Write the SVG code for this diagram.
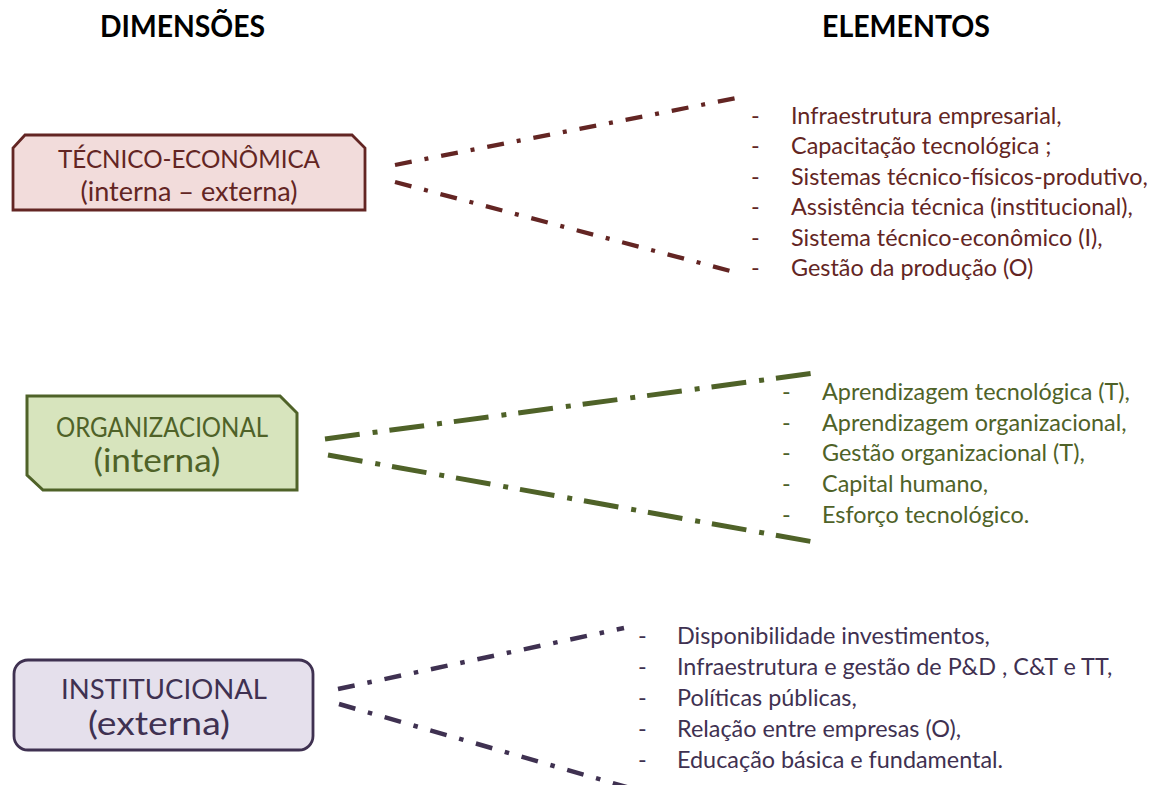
<svg xmlns="http://www.w3.org/2000/svg" width="1153" height="785" viewBox="0 0 1153 785">
<style>
text{font-family:Lato,"Liberation Sans","Noto Sans",sans-serif}
.title{font-weight:bold;font-size:29.5px;fill:#000}
.red{fill:#632523}
.green{fill:#4f6228}
.purple{fill:#3f3151}
.item{font-size:23.4px}
.box1{fill:#f2dcdb;stroke:#632523;stroke-width:2.8}
.box2{fill:#d7e4bd;stroke:#4f6228;stroke-width:3}
.box3{fill:#e5e0ec;stroke:#3f3151;stroke-width:2.8}
.c1{stroke:#632523;stroke-width:4.3;fill:none;stroke-dasharray:17 13 4 13}
.c2{stroke:#4f6228;stroke-width:5;fill:none;stroke-dasharray:35 13 5 12}
.c3{stroke:#3f3151;stroke-width:4.5;fill:none;stroke-dasharray:17 13 4.5 13}
</style>
<rect width="1153" height="785" fill="#ffffff"/>
<g id="titles">
<text class="title" x="100" y="37" textLength="165" lengthAdjust="spacingAndGlyphs">DIMENSÕES</text>
<text class="title" x="822" y="37" textLength="168" lengthAdjust="spacingAndGlyphs">ELEMENTOS</text>
</g>
<g id="connectors">
<line class="c1" x1="395" y1="165" x2="742" y2="97"/>
<line class="c1" x1="395" y1="182" x2="738" y2="273"/>
<line class="c2" x1="325" y1="439" x2="815" y2="373"/>
<line class="c2" x1="328" y1="455" x2="814" y2="542"/>
<line class="c3" x1="338" y1="689" x2="624" y2="628"/>
<line class="c3" x1="339" y1="704" x2="630" y2="788"/>
</g>
<g id="node-tecnico">
<path class="box1" d="M25,135 H352 L365,148 V210 H13 V148 Z"/>
<text class="red" x="189" y="168" font-size="25.5" text-anchor="middle" textLength="262" lengthAdjust="spacingAndGlyphs">TÉCNICO-ECONÔMICA</text>
<text class="red" x="189" y="201" font-size="26.5" text-anchor="middle" textLength="217" lengthAdjust="spacingAndGlyphs">(interna – externa)</text>
</g>
<g id="node-organizacional">
<path class="box2" d="M27,396 H280 L297,413 V490 H43 L27,475 Z"/>
<text class="green" x="162" y="437" font-size="26" text-anchor="middle" textLength="212" lengthAdjust="spacingAndGlyphs">ORGANIZACIONAL</text>
<text class="green" x="157" y="472" font-size="33" text-anchor="middle" textLength="127" lengthAdjust="spacingAndGlyphs">(interna)</text>
</g>
<g id="node-institucional">
<rect class="box3" x="14" y="660" width="299" height="90" rx="14"/>
<text class="purple" x="164" y="699" font-size="27" text-anchor="middle" textLength="206" lengthAdjust="spacingAndGlyphs">INSTITUCIONAL</text>
<text class="purple" x="159" y="735" font-size="32" text-anchor="middle" textLength="142" lengthAdjust="spacingAndGlyphs">(externa)</text>
</g>
<g id="list-tecnico" class="red item">
<text x="751" y="124">-</text><text x="791" y="124">Infraestrutura empresarial,</text>
<text x="751" y="154.4">-</text><text x="791" y="154.4">Capacitação tecnológica ;</text>
<text x="751" y="184.8">-</text><text x="791" y="184.8">Sistemas técnico-físicos-produtivo,</text>
<text x="751" y="215.2">-</text><text x="791" y="215.2">Assistência técnica (institucional),</text>
<text x="751" y="245.6">-</text><text x="791" y="245.6">Sistema técnico-econômico (I),</text>
<text x="751" y="276">-</text><text x="791" y="276">Gestão da produção (O)</text>
</g>
<g id="list-organizacional" class="green item">
<text x="782" y="400">-</text><text x="822" y="400">Aprendizagem tecnológica (T),</text>
<text x="782" y="430.7">-</text><text x="822" y="430.7">Aprendizagem organizacional,</text>
<text x="782" y="461.4">-</text><text x="822" y="461.4">Gestão organizacional (T),</text>
<text x="782" y="492.1">-</text><text x="822" y="492.1">Capital humano,</text>
<text x="782" y="522.8">-</text><text x="822" y="522.8">Esforço tecnológico.</text>
</g>
<g id="list-institucional" class="purple item">
<text x="638" y="644">-</text><text x="677" y="644">Disponibilidade investimentos,</text>
<text x="638" y="675">-</text><text x="677" y="675">Infraestrutura e gestão de P&amp;D , C&amp;T e TT,</text>
<text x="638" y="706">-</text><text x="677" y="706">Políticas públicas,</text>
<text x="638" y="737">-</text><text x="677" y="737">Relação entre empresas (O),</text>
<text x="638" y="768">-</text><text x="677" y="768">Educação básica e fundamental.</text>
</g>
</svg>
